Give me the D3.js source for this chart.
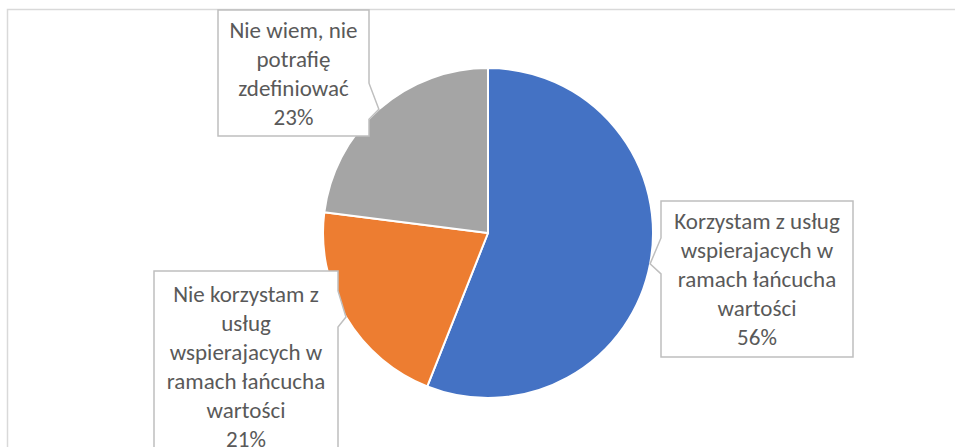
<!DOCTYPE html>
<html>
<head>
<meta charset="utf-8">
<script src="https://cdn.jsdelivr.net/npm/d3@7"></script>
<style>
	body { margin: 0; background: #fff; }
	svg { display: block; }
</style>
</head>
<body>
<svg id="chart"></svg>
<script>
// Data.
const categories = [
	'Korzystam z usług wspierajacych w ramach łańcucha wartości',
	'Nie korzystam z usług wspierajacych w ramach łańcucha wartości',
	'Nie wiem, nie potrafię zdefiniować',
];
const values = [56, 21, 23];
const colors = ['#4472C4', '#ED7D31', '#A5A5A5'];

// Callout boxes (layout only), in the same order as the categories.
const labelBoxes = [
	{ x: 661, y: 201, w: 192, h: 156 },
	{ x: 154, y: 271, w: 184, h: 190 },
	{ x: 218, y: 10, w: 151, h: 126 },
];

const width = 955;
const height = 447;
const cx = 488;
const cy = 233;
const radius = 165;
const lineHeight = 29;
const fontSize = 23;
const fontFamily = 'Carlito, Calibri, Lato, sans-serif';

const data = categories.map((name, i) => ({ name, value: values[i], color: colors[i], box: labelBoxes[i] }));

const svg = d3.select('#chart').attr('width', width).attr('height', height);

// Chart area border
svg.append('rect')
	.attr('x', 7.5)
	.attr('y', 9.5)
	.attr('width', width + 20)
	.attr('height', height + 20)
	.attr('fill', 'none')
	.attr('stroke', '#D9D9D9')
	.attr('stroke-width', 1.5);

const pie = d3.pie().sort(null).value((d) => d.value);
const arcs = pie(data);
const arc = d3.arc().innerRadius(0).outerRadius(radius);
const edge = d3.arc().innerRadius(radius).outerRadius(radius);

const g = svg.append('g').attr('transform', `translate(${cx},${cy})`);

g.selectAll('path')
	.data(arcs)
	.join('path')
	.attr('d', arc)
	.attr('fill', (d) => d.data.color)
	.attr('stroke', '#fff')
	.attr('stroke-width', 2)
	.attr('stroke-linejoin', 'round');

// Simple greedy word wrap
const measurer = svg.append('text').attr('font-size', fontSize).attr('font-family', fontFamily);
function wrap(text, maxWidth) {
	const words = text.split(' ');
	const lines = [];
	let line = '';
	for (const w of words) {
		const test = line ? line + ' ' + w : w;
		measurer.text(test);
		if (line && measurer.node().getComputedTextLength() > maxWidth) {
			lines.push(line);
			line = w;
		} else line = test;
	}
	if (line) lines.push(line);
	return lines;
}

// Callouts
const callouts = svg.append('g');
arcs.forEach((a) => {
	const b = a.data.box;
	const mid = (a.startAngle + a.endAngle) / 2;
	const [tx0, ty0] = edge.centroid({ startAngle: mid, endAngle: mid });
	const tx = tx0 + cx;
	const ty = ty0 + cy;

	// outline with a pointer on the side facing the pie
	const x0 = b.x, x1 = b.x + b.w, y0 = b.y, y1 = b.y + b.h;
	const p0 = Math.max(y0 + 4, ty - 26);
	const p1 = Math.min(y1 - 4, ty + 10);
	let pts;
	if (tx > x1) {
		pts = [[x0, y0], [x1, y0], [x1, p0], [tx, ty], [x1, p1], [x1, y1], [x0, y1]];
	} else {
		pts = [[x0, y0], [x1, y0], [x1, y1], [x0, y1], [x0, p1], [tx, ty], [x0, p0]];
	}
	callouts.append('path')
		.attr('d', d3.line()(pts) + 'Z')
		.attr('fill', '#fff')
		.attr('stroke', '#BFBFBF')
		.attr('stroke-width', 1.5);

	const lines = wrap(a.data.name, b.w - 12).concat([`${a.data.value}%`]);
	const top = y0 + b.h / 2 - ((lines.length - 1) * lineHeight) / 2;
	const t = callouts.append('text')
		.attr('font-size', fontSize)
		.attr('font-family', fontFamily)
		.attr('fill', '#595959')
		.attr('text-anchor', 'middle');
	lines.forEach((l, i) => {
		t.append('tspan')
			.attr('x', x0 + b.w / 2)
			.attr('y', top + i * lineHeight)
			.attr('dy', '0.35em')
			.text(l);
	});
});
measurer.remove();
</script>
</body>
</html>
